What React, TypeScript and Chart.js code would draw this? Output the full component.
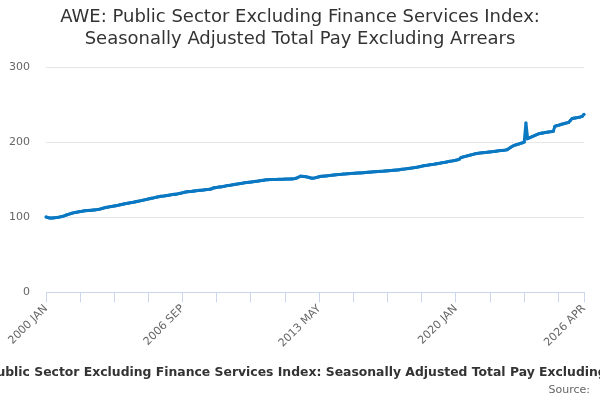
import { useEffect, useRef } from 'react';
import Chart from 'chart.js/auto';

const title = [
  'AWE: Public Sector Excluding Finance Services Index:',
  'Seasonally Adjusted Total Pay Excluding Arrears',
];
const caption =
  'AWE: Public Sector Excluding Finance Services Index: Seasonally Adjusted Total Pay Excluding Arrears';
const source = 'Source:';

const months = ['JAN', 'FEB', 'MAR', 'APR', 'MAY', 'JUN', 'JUL', 'AUG', 'SEP', 'OCT', 'NOV', 'DEC'];
const firstYear = 2000;
const lastYear = 2026;
const lastMonth = 4;

// index values, one row per year
const y2000 = [100.4, 99.6, 99.0, 98.8, 99.0, 99.3, 99.6, 99.9, 100.3, 100.8, 101.3, 102.2];
const y2001 = [103.0, 103.8, 104.5, 105.2, 105.8, 106.3, 106.7, 107.1, 107.5, 107.9, 108.4, 108.6];
const y2002 = [108.8, 109.0, 109.2, 109.4, 109.7, 109.9, 110.2, 110.6, 111.1, 111.8, 112.4, 113.0];
const y2003 = [113.4, 113.8, 114.2, 114.6, 115.0, 115.4, 115.8, 116.4, 116.9, 117.4, 117.9, 118.3];
const y2004 = [118.7, 119.1, 119.5, 119.9, 120.4, 120.9, 121.4, 121.8, 122.3, 122.8, 123.3, 123.8];
const y2005 = [124.4, 124.9, 125.4, 125.8, 126.3, 126.9, 127.4, 127.8, 128.0, 128.3, 128.7, 129.0];
const y2006 = [129.4, 129.8, 130.2, 130.5, 130.7, 131.1, 131.6, 132.1, 132.6, 133.2, 133.7, 134.0];
const y2007 = [134.2, 134.4, 134.7, 135.0, 135.3, 135.6, 135.8, 136.0, 136.2, 136.5, 136.8, 137.1];
const y2008 = [137.4, 137.9, 139.0, 139.4, 139.8, 140.2, 140.4, 140.7, 141.1, 141.6, 142.1, 142.4];
const y2009 = [142.7, 143.1, 143.5, 143.9, 144.3, 144.7, 145.1, 145.4, 145.8, 146.1, 146.4, 146.7];
const y2010 = [146.9, 147.2, 147.5, 147.8, 148.1, 148.5, 148.9, 149.2, 149.5, 149.8, 150.0, 150.2];
const y2011 = [150.2, 150.3, 150.3, 150.4, 150.5, 150.5, 150.6, 150.7, 150.8, 150.8, 150.9, 151.0];
const y2012 = [151.1, 151.3, 151.7, 152.5, 153.6, 154.7, 154.5, 154.3, 154.0, 153.6, 153.0, 152.4];
const y2013 = [152.0, 152.3, 152.8, 153.4, 154.0, 154.5, 154.7, 154.9, 155.0, 155.3, 155.6, 155.9];
const y2014 = [156.2, 156.4, 156.6, 156.8, 157.0, 157.3, 157.5, 157.6, 157.8, 158.0, 158.2, 158.4];
const y2015 = [158.6, 158.7, 158.9, 159.0, 159.1, 159.2, 159.4, 159.6, 159.8, 160.0, 160.2, 160.4];
const y2016 = [160.6, 160.7, 160.9, 161.0, 161.2, 161.3, 161.5, 161.7, 161.9, 162.1, 162.3, 162.5];
const y2017 = [162.7, 162.9, 163.1, 163.4, 163.8, 164.0, 164.3, 164.6, 164.9, 165.2, 165.5, 165.8];
const y2018 = [166.2, 166.6, 167.0, 167.5, 168.1, 168.5, 168.9, 169.2, 169.6, 170.0, 170.3, 170.6];
const y2019 = [171.0, 171.4, 171.8, 172.2, 172.6, 173.0, 173.4, 173.9, 174.4, 174.8, 175.1, 175.5];
const y2020 = [176.0, 176.6, 177.4, 179.6, 180.2, 180.8, 181.4, 182.0, 182.6, 183.2, 183.8, 184.4];
const y2021 = [184.9, 185.2, 185.5, 185.8, 186.0, 186.3, 186.5, 186.8, 187.0, 187.3, 187.6, 187.9];
const y2022 = [188.2, 188.5, 188.8, 189.1, 189.3, 189.6, 190.0, 191.5, 193.0, 194.5, 195.6, 196.4];
const y2023 = [197.0, 197.8, 198.6, 199.3, 200.4, 225.8, 204.9, 205.8, 206.8, 207.8, 208.8, 209.9];
const y2024 = [210.8, 211.6, 212.0, 212.4, 212.8, 213.2, 213.5, 213.8, 214.2, 214.6, 221.3, 222.0];
const y2025 = [222.6, 223.3, 224.0, 224.6, 225.2, 225.8, 226.4, 229.0, 231.5, 232.0, 232.4, 232.8];
const y2026 = [233.2, 233.8, 234.6, 237.3];

const values = [
  ...y2000, ...y2001, ...y2002, ...y2003, ...y2004, ...y2005, ...y2006,
  ...y2007, ...y2008, ...y2009, ...y2010, ...y2011, ...y2012, ...y2013,
  ...y2014, ...y2015, ...y2016, ...y2017, ...y2018, ...y2019, ...y2020,
  ...y2021, ...y2022, ...y2023, ...y2024, ...y2025, ...y2026,
];

const labels: string[] = [];
for (let y = firstYear; y <= lastYear; y++) {
  const end = y === lastYear ? lastMonth : 12;
  for (let m = 0; m < end; m++) labels.push(`${y} ${months[m]}`);
}

const shownLabels = ['2000 JAN', '2006 SEP', '2013 MAY', '2020 JAN', '2026 APR'];
const tickEvery = 20;

const FONT = "'DejaVu Sans', sans-serif";

export default function App() {
  const canvasRef = useRef<HTMLCanvasElement>(null);

  useEffect(() => {
    const canvas = canvasRef.current;
    if (!canvas) return;
    const lastIndex = labels.length - 1;

    const footer = {
      id: 'footer',
      afterDraw(chart: Chart) {
        const ctx = chart.ctx;
        ctx.save();
        ctx.textBaseline = 'middle';
        ctx.fillStyle = '#333333';
        ctx.font = `bold 12.4px ${FONT}`;
        ctx.textAlign = 'center';
        ctx.fillText(caption, 305, 373);
        ctx.fillStyle = '#666666';
        ctx.font = `11px ${FONT}`;
        ctx.textAlign = 'right';
        ctx.fillText(source, 590, 390);
        ctx.restore();
      },
    };

    const chart = new Chart(canvas, {
      type: 'line',
      data: {
        labels,
        datasets: [{
          data: values,
          borderColor: '#0b78c2',
          backgroundColor: '#0b78c2',
          borderWidth: 3,
          pointRadius: 1.6,
          pointBorderWidth: 0,
          tension: 0,
        }],
      },
      options: {
        animation: false,
        responsive: false,
        layout: { padding: { left: 0, right: 0, top: 0, bottom: 50 } },
        plugins: {
          legend: { display: false },
          tooltip: { enabled: false },
          title: {
            display: true,
            text: title,
            color: '#333333',
            font: { family: FONT, size: 18, weight: 'normal', lineHeight: 1.2 },
            padding: { top: 7, bottom: 17 },
          },
        },
        scales: {
          x: {
            ticks: {
              autoSkip: false,
              maxRotation: 45,
              minRotation: 45,
              color: '#666666',
              font: { family: FONT, size: 11 },
              padding: 0,
              callback: (_v, i) => (shownLabels.includes(labels[i]) ? labels[i] : ''),
            },
            grid: {
              drawOnChartArea: false,
              tickLength: 10,
              tickColor: (ctx: any) =>
                ctx.index % tickEvery === 0 || ctx.index === lastIndex ? '#ccd6eb' : 'rgba(0,0,0,0)',
            },
            border: { color: '#ccd6eb', width: 1 },
            afterFit: (scale: any) => {
              scale.paddingRight = 16;
            },
          },
          y: {
            min: 0,
            max: 300,
            ticks: {
              stepSize: 100,
              color: '#666666',
              font: { family: FONT, size: 11 },
              padding: 16,
            },
            grid: { color: '#e6e6e6', drawTicks: false },
            border: { display: false },
            afterFit: (scale: any) => {
              scale.width = 46;
            },
          },
        },
      },
      plugins: [footer],
    });

    return () => {
      chart.destroy();
    };
  }, []);

  return (
    <div style={{ position: 'absolute', left: 0, top: 0, width: 600, height: 400 }}>
      <canvas ref={canvasRef} width={600} height={400} style={{ width: 600, height: 400 }} />
    </div>
  );
}
